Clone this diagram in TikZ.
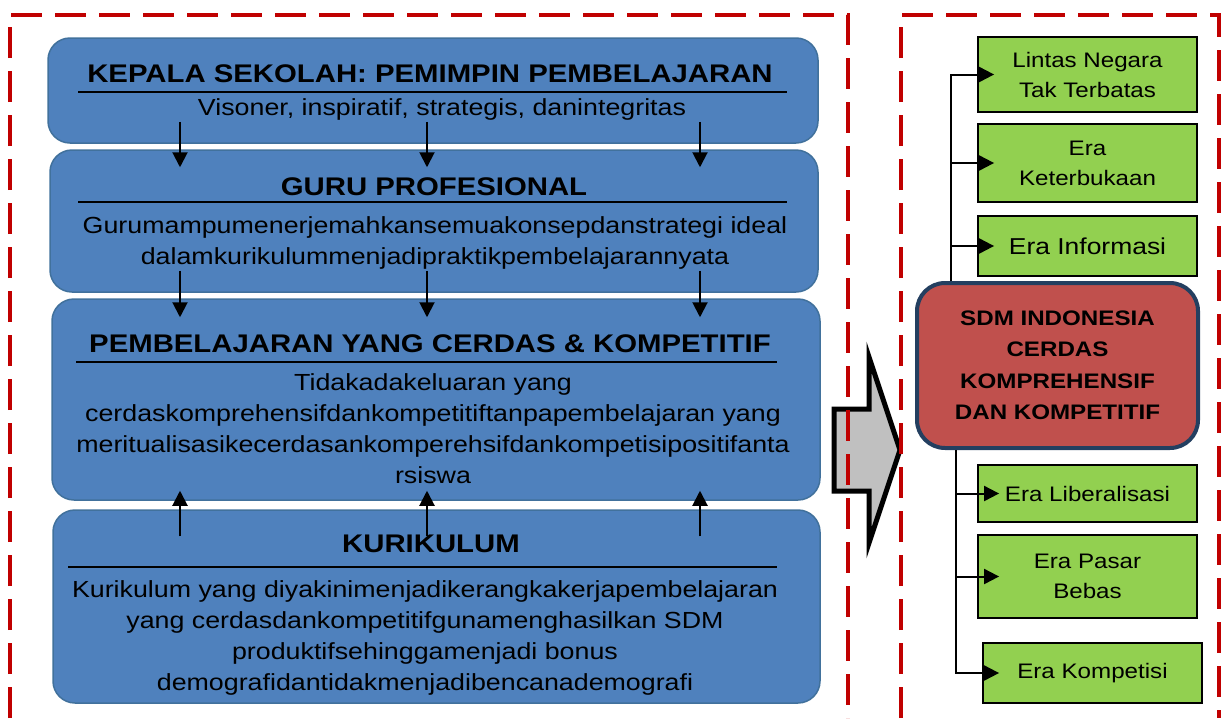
\documentclass[tikz,border=0pt]{standalone}
\usepackage{fontspec}
\setmainfont[FakeStretch=1.15]{Liberation Sans}
\usetikzlibrary{arrows.meta}

\definecolor{dashred}{HTML}{C00000}
\definecolor{boxblue}{HTML}{4F81BD}
\definecolor{boxblueline}{HTML}{41719C}
\definecolor{eragreen}{HTML}{92D050}
\definecolor{sdmred}{HTML}{C0504D}
\definecolor{sdmline}{HTML}{243F60}
\definecolor{bigarrowgray}{HTML}{C0C0C0}

\tikzset{
  bluebox/.style={draw=boxblueline,line width=1.5pt,fill=boxblue,rounded corners=22pt,inner sep=0pt},
  head/.style={anchor=base,font=\fontsize{25.5}{30}\selectfont\bfseries,inner sep=0pt},
  body/.style={anchor=north,align=center,font=\fontsize{23.3}{31}\selectfont,inner sep=0pt},
  uline/.style={line width=2pt},
  arr/.style={line width=2pt,-{Triangle[length=15pt,width=15pt]}},
  tree/.style={line width=2pt,-{Triangle[length=15pt,width=15pt]}},
  erabox/.style={draw,line width=1.8pt,fill=eragreen,align=center,font=\fontsize{21}{30}\selectfont,inner sep=0pt,minimum width=219pt},
  sdmbox/.style={draw=sdmline,line width=4pt,fill=sdmred,rounded corners=28pt,align=center,font=\fontsize{21}{31.5}\selectfont\bfseries,inner sep=0pt},
  redframe/.style={dashred,line width=4pt,dash pattern=on 31pt off 13pt}
}

\begin{document}
\begin{tikzpicture}[x=1pt,y=-1pt]
  \useasboundingbox (0,0) rectangle (1221,718);
  % blue boxes
  \node[bluebox,minimum width=770,minimum height=105] (kepala) at (433,90.5) {};
  \node[bluebox,minimum width=768,minimum height=142] (guru) at (434,221) {};
  \node[bluebox,minimum width=768,minimum height=201] (pembelajaran) at (436,399.5) {};
  \node[bluebox,minimum width=767,minimum height=193] (kurikulum) at (436.5,606.5) {};

  \node[head] (kepalahead) at (430,82) {KEPALA SEKOLAH: PEMIMPIN PEMBELAJARAN};
  \node[body,anchor=base] (kepalatext) at (442,115) {Visoner, inspiratif, strategis, danintegritas};
  \draw[uline] (78,92) -- (787,92);

  \node[head] (guruhead) at (434,195) {GURU PROFESIONAL};
  \node[body] (gurutext) at (435,211.3) {\strut Gurumampumenerjemahkansemuakonsepdanstrategi ideal\\dalamkurikulummenjadipraktikpembelajarannyata};
  \draw[uline] (78,202) -- (787,202);

  \node[head] (pemhead) at (430,352) {PEMBELAJARAN YANG CERDAS \& KOMPETITIF};
  \node[body] (pemtext) at (433,368.3) {\strut Tidakadakeluaran yang\\cerdaskomprehensifdankompetitiftanpapembelajaran yang\\meritualisasikecerdasankomperehsifdankompetisipositifanta\\rsiswa};
  \draw[uline] (76,362) -- (777,362);

  \node[head] (kurhead) at (431,552) {KURIKULUM};
  \node[body] (kurtext) at (425,575.3) {\strut Kurikulum yang diyakinimenjadikerangkakerjapembelajaran\\yang cerdasdankompetitifgunamenghasilkan SDM\\produktifsehinggamenjadi bonus\\demografidantidakmenjadibencanademografi};
  \draw[uline] (68,567) -- (777,567);

  \foreach \x in {180,427,700}{
    \draw[arr] ([yshift=22pt]kepala.south -| \x,0) -- ([yshift=-18pt]guru.north -| \x,0);
    \draw[arr] ([yshift=22pt]guru.south -| \x,0) -- ([yshift=-19pt]pembelajaran.north -| \x,0);
    \draw[arr] ([yshift=-27pt]kurikulum.north -| \x,0) -- ([yshift=10pt]pembelajaran.south -| \x,0);
  }

  % big arrow
  \draw[line width=5pt,fill=bigarrowgray,line join=miter] (834,409) -- (869,409) -- (869,357) -- (900,450) -- (869,543) -- (869,491) -- (834,491) -- cycle;

  % right side
  \node[sdmbox,minimum width=281,minimum height=165] (sdm) at (1057.5,365.5) {SDM INDONESIA\\CERDAS\\KOMPREHENSIF\\DAN KOMPETITIF};
  \node[erabox,minimum height=75] (lintas) at (1087.5,74.5) {Lintas Negara\\Tak Terbatas};
  \node[erabox,minimum height=78] (terbuka) at (1087.5,163) {Era\\Keterbukaan};
  \node[erabox,minimum height=60,font=\fontsize{23}{30}\selectfont] (informasi) at (1087.5,246) {Era Informasi};
  \node[erabox,minimum height=57] (liberal) at (1087.5,493.5) {Era Liberalisasi};
  \node[erabox,minimum height=83] (pasar) at (1087.5,576.5) {Era Pasar\\Bebas};
  \node[erabox,minimum height=60] (kompetisi) at (1092.5,673) {Era Kompetisi};

  \draw[tree] (sdm.north -| 951,0) |- ([xshift=17pt]lintas.west);
  \draw[tree] (sdm.north -| 951,0) |- ([xshift=17pt]terbuka.west);
  \draw[tree] (sdm.north -| 951,0) |- ([xshift=17pt]informasi.west);
  \draw[tree] (sdm.south -| 956,0) |- ([xshift=22pt]liberal.west);
  \draw[tree] (sdm.south -| 956,0) |- ([xshift=22pt]pasar.west);
  \draw[tree] (sdm.south -| 956,0) |- ([xshift=17pt]kompetisi.west);

  % dashed frames
  \draw[redframe] (10,718) -- (10,15) -- (848,15) -- (848,718);
  \draw[redframe] (901,718) -- (901,15) -- (1219,15) -- (1219,718);
\end{tikzpicture}
\end{document}
